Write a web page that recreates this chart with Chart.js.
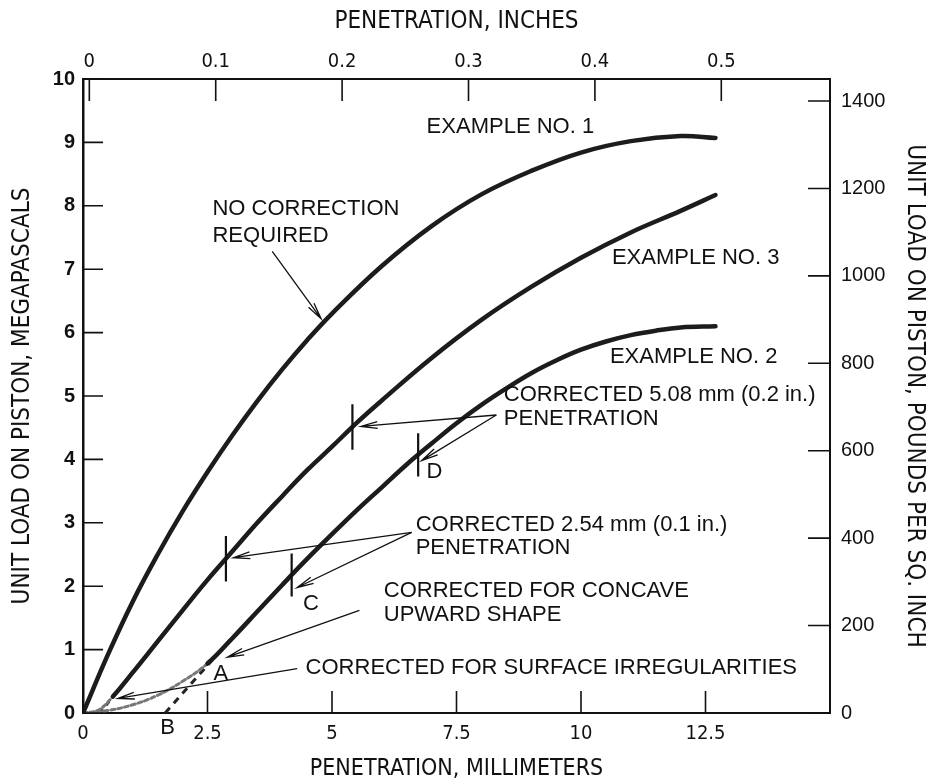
<!DOCTYPE html>
<html>
<head>
<meta charset="utf-8">
<script src="https://cdn.jsdelivr.net/npm/chart.js@4.4.1/dist/chart.umd.min.js"></script>
<style>
  html, body { margin: 0; padding: 0; background: #fff; }
  #wrap { width: 935px; height: 784px; }
</style>
</head>
<body>
<div id="wrap"><canvas id="cbrChart" width="935" height="784"></canvas></div>
<script>
// penetration (mm) and unit load (MPa)
const ex1Mm = [0, 0.5, 1, 1.5, 2, 2.5, 3, 3.5, 4, 4.5, 5, 6, 7, 8, 9, 10, 11, 12, 12.7];
const ex1Mpa = [0, 0.92, 1.76, 2.5, 3.18, 3.8, 4.38, 4.92, 5.42, 5.88, 6.3, 7.05, 7.68, 8.18, 8.55, 8.84, 9.02, 9.1, 9.07];

const ex3Mm = [0, 0.3, 0.6, 1, 1.5, 2, 2.5, 3, 3.5, 4, 4.5, 5, 5.5, 6, 7, 8, 9, 10, 11, 12, 12.7];
const ex3Mpa = [0, 0.04, 0.26, 0.64, 1.13, 1.62, 2.1, 2.55, 3.0, 3.42, 3.83, 4.2, 4.58, 4.93, 5.6, 6.2, 6.72, 7.18, 7.58, 7.92, 8.17];

const ex2Mm = [0, 0.5, 1, 1.5, 2, 2.5, 3, 3.5, 4, 4.5, 5, 5.5, 6, 6.5, 7, 7.5, 8, 8.5, 9, 9.5, 10, 10.5, 11, 11.5, 12, 12.7];
const ex2Mpa = [0, 0.04, 0.13, 0.28, 0.5, 0.78, 1.18, 1.6, 2.02, 2.43, 2.82, 3.2, 3.56, 3.92, 4.25, 4.57, 4.86, 5.12, 5.36, 5.56, 5.73, 5.86, 5.96, 6.03, 6.08, 6.1];

// corrected (dashed) starting lines
const ex2CorrMm = [1.65, 2.95];
const ex2CorrMpa = [0, 1.15];
const ex3CorrMm = [0.33, 0.95];
const ex3CorrMpa = [0, 0.58];

// corrected penetration marks (mm)
const ex3MarksMm = [2.87, 5.41];
const ex2MarksMm = [4.19, 6.73];

const mmTicks = [0, 2.5, 5, 7.5, 10, 12.5];
const inchTicks = [0, 0.1, 0.2, 0.3, 0.4, 0.5];
const mpaTicks = [0, 1, 2, 3, 4, 5, 6, 7, 8, 9, 10];
const psiTicks = [0, 200, 400, 600, 800, 1000, 1200, 1400];

const toXY = (xs, ys) => xs.map((x, i) => ({ x: x, y: ys[i] }));

const narrow = "'Liberation Sans Narrow', 'DejaVu Sans Condensed', 'Roboto Condensed', sans-serif";
const plain = "'Liberation Sans', Arial, sans-serif";

// annotation layout (data coordinates)
const notes = [
  { text: "EXAMPLE NO. 1", x: 6.9, y: 9.24 },
  { text: "NO CORRECTION", x: 2.6, y: 7.95 },
  { text: "REQUIRED", x: 2.6, y: 7.52 },
  { text: "EXAMPLE NO. 3", x: 10.62, y: 7.18 },
  { text: "EXAMPLE NO. 2", x: 10.58, y: 5.62 },
  { text: "CORRECTED 5.08 mm (0.2 in.)", x: 8.45, y: 5.02 },
  { text: "PENETRATION", x: 8.45, y: 4.64 },
  { text: "D", x: 6.9, y: 3.8 },
  { text: "CORRECTED 2.54 mm (0.1 in.)", x: 6.68, y: 2.97 },
  { text: "PENETRATION", x: 6.68, y: 2.6 },
  { text: "C", x: 4.42, y: 1.72 },
  { text: "CORRECTED FOR CONCAVE", x: 6.04, y: 1.93 },
  { text: "UPWARD SHAPE", x: 6.04, y: 1.55 },
  { text: "A", x: 2.62, y: 0.62 },
  { text: "CORRECTED FOR SURFACE IRREGULARITIES", x: 4.47, y: 0.71 },
  { text: "B", x: 1.55, y: -0.24 }
];

const arrows = [
  { from: [3.8, 7.28], to: [4.78, 6.22] },
  { from: [8.3, 4.7], to: [5.58, 4.52] },
  { from: [8.3, 4.7], to: [6.8, 3.98] },
  { from: [6.6, 2.85], to: [3.02, 2.45] },
  { from: [6.6, 2.85], to: [4.3, 1.98] },
  { from: [5.55, 1.62], to: [2.9, 0.88] },
  { from: [4.3, 0.7], to: [0.7, 0.23] }
];

function interp(xs, ys, x) {
  for (let i = 1; i < xs.length; i++) {
    if (x <= xs[i]) {
      const t = (x - xs[i - 1]) / (xs[i] - xs[i - 1]);
      return ys[i - 1] + t * (ys[i] - ys[i - 1]);
    }
  }
  return ys[ys.length - 1];
}

// tick marks pointing into the plot, like the drawing
const inwardTicks = {
  id: "inwardTicks",
  afterDraw(chart) {
    const { ctx, chartArea: a, scales: s } = chart;
    ctx.save();
    ctx.strokeStyle = "#111";
    ctx.lineWidth = 1.6;
    ctx.beginPath();
    s.x.ticks.forEach(t => {
      const p = s.x.getPixelForValue(t.value);
      ctx.moveTo(p, a.bottom); ctx.lineTo(p, a.bottom - 22);
    });
    s.xTop.ticks.forEach(t => {
      const p = s.xTop.getPixelForValue(t.value);
      ctx.moveTo(p, a.top); ctx.lineTo(p, a.top + 22);
    });
    s.y.ticks.forEach(t => {
      const p = s.y.getPixelForValue(t.value);
      ctx.moveTo(a.left, p); ctx.lineTo(a.left + 20, p);
    });
    s.yRight.ticks.forEach(t => {
      const p = s.yRight.getPixelForValue(t.value);
      ctx.moveTo(a.right, p); ctx.lineTo(a.right - 22, p);
    });
    ctx.stroke();
    ctx.restore();
  }
};

const notesPlugin = {
  id: "notes",
  afterDraw(chart) {
    const { ctx, scales: s } = chart;
    const px = v => s.x.getPixelForValue(v);
    const py = v => s.y.getPixelForValue(v);
    ctx.save();
    ctx.fillStyle = "#111";
    ctx.strokeStyle = "#111";

    // correction marks across the curves
    ctx.lineWidth = 2.2;
    ctx.beginPath();
    ex3MarksMm.forEach(m => {
      const v = interp(ex3Mm, ex3Mpa, m);
      ctx.moveTo(px(m), py(v + 0.36)); ctx.lineTo(px(m), py(v - 0.36));
    });
    ex2MarksMm.forEach(m => {
      const v = interp(ex2Mm, ex2Mpa, m);
      ctx.moveTo(px(m), py(v + 0.34)); ctx.lineTo(px(m), py(v - 0.34));
    });
    ctx.stroke();

    // arrows
    ctx.lineWidth = 1.3;
    arrows.forEach(ar => {
      const x0 = px(ar.from[0]), y0 = py(ar.from[1]);
      const x1 = px(ar.to[0]), y1 = py(ar.to[1]);
      const ang = Math.atan2(y1 - y0, x1 - x0);
      ctx.beginPath();
      ctx.moveTo(x0, y0); ctx.lineTo(x1, y1);
      const len = 17, spread = 0.2;
      ctx.moveTo(x1 - len * Math.cos(ang - spread), y1 - len * Math.sin(ang - spread));
      ctx.lineTo(x1, y1);
      ctx.lineTo(x1 - len * Math.cos(ang + spread), y1 - len * Math.sin(ang + spread));
      ctx.stroke();
    });

    ctx.font = "22px " + plain;
    ctx.textAlign = "left";
    ctx.textBaseline = "middle";
    notes.forEach(n => ctx.fillText(n.text, px(n.x), py(n.y)));
    ctx.restore();
  }
};

const curveStyle = {
  borderColor: "#1c1c1c",
  borderWidth: 4.5,
  pointRadius: 0,
  tension: 0.4,
  fill: false,
  borderCapStyle: "round"
};

// the uncorrected toe of a curve is stippled in the drawing
const toeStyle = limit => ({
  borderColor: c => (c.p1.parsed.x <= limit ? "#777" : undefined),
  borderDash: c => (c.p1.parsed.x <= limit ? [4, 3] : undefined),
  borderWidth: c => (c.p1.parsed.x <= limit ? 3 : undefined)
});

const noGrid = { display: false, drawTicks: false };

new Chart(document.getElementById("cbrChart"), {
  type: "line",
  data: {
    datasets: [
      Object.assign({ label: "Example No. 1", data: toXY(ex1Mm, ex1Mpa) }, curveStyle),
      Object.assign({ label: "Example No. 3", data: toXY(ex3Mm, ex3Mpa), segment: toeStyle(0.6) }, curveStyle),
      Object.assign({ label: "Example No. 2", data: toXY(ex2Mm, ex2Mpa), segment: toeStyle(2.5) }, curveStyle),
      { label: "Ex. 2 corrected", data: toXY(ex2CorrMm, ex2CorrMpa), borderColor: "#222",
        borderWidth: 3, borderDash: [7, 6], pointRadius: 0, tension: 0 },
      { label: "Ex. 3 corrected", data: toXY(ex3CorrMm, ex3CorrMpa), borderColor: "#222",
        borderWidth: 3, borderDash: [5, 5], pointRadius: 0, tension: 0 }
    ]
  },
  options: {
    responsive: false,
    animation: false,
    devicePixelRatio: 1,
    layout: { padding: 0 },
    plugins: { legend: { display: false }, tooltip: { enabled: false } },
    scales: {
      x: {
        type: "linear", position: "bottom", min: 0, max: 15,
        afterBuildTicks: sc => { sc.ticks = mmTicks.map(v => ({ value: v })); },
        afterFit: sc => { sc.height = 71; },
        grid: noGrid,
        border: { display: true, color: "#111", width: 2 },
        ticks: { padding: 9, color: "#111", font: { family: narrow, size: 20 },
                 callback: v => String(v) },
        title: { display: true, text: "PENETRATION, MILLIMETERS", color: "#111",
                 font: { family: narrow, size: 23 }, padding: { top: 0, bottom: 1 } }
      },
      xTop: {
        type: "linear", position: "top", min: -0.005, max: 0.586,
        afterBuildTicks: sc => { sc.ticks = inchTicks.map(v => ({ value: v })); },
        afterFit: sc => { sc.height = 79; },
        grid: noGrid,
        border: { display: true, color: "#111", width: 2 },
        ticks: { padding: 5, color: "#111", font: { family: narrow, size: 20 },
                 callback: v => String(v) },
        title: { display: true, text: "PENETRATION, INCHES", color: "#111",
                 font: { family: narrow, size: 24 }, padding: { top: 7, bottom: 0 } }
      },
      y: {
        type: "linear", position: "left", min: 0, max: 10,
        afterBuildTicks: sc => { sc.ticks = mpaTicks.map(v => ({ value: v })); },
        afterFit: sc => { sc.width = 83; },
        grid: noGrid,
        border: { display: true, color: "#111", width: 2.5 },
        ticks: { padding: 8, color: "#111", font: { family: plain, size: 20, weight: "bold" } },
        title: { display: true, text: "UNIT LOAD ON PISTON, MEGAPASCALS", color: "#111",
                 font: { family: narrow, size: 24 }, padding: { top: 8, bottom: 0 } }
      },
      yRight: {
        type: "linear", position: "right", min: 0, max: 1450.38,
        afterBuildTicks: sc => { sc.ticks = psiTicks.map(v => ({ value: v })); },
        afterFit: sc => { sc.width = 105; },
        grid: noGrid,
        border: { display: true, color: "#111", width: 2 },
        ticks: { padding: 11, color: "#111", font: { family: plain, size: 20 },
                 callback: v => String(v) },
        title: { display: true, text: "UNIT LOAD ON PISTON, POUNDS PER SQ. INCH", color: "#111",
                 font: { family: narrow, size: 24 }, padding: { top: 6, bottom: 0 } }
      }
    }
  },
  plugins: [inwardTicks, notesPlugin]
});
</script>
</body>
</html>
